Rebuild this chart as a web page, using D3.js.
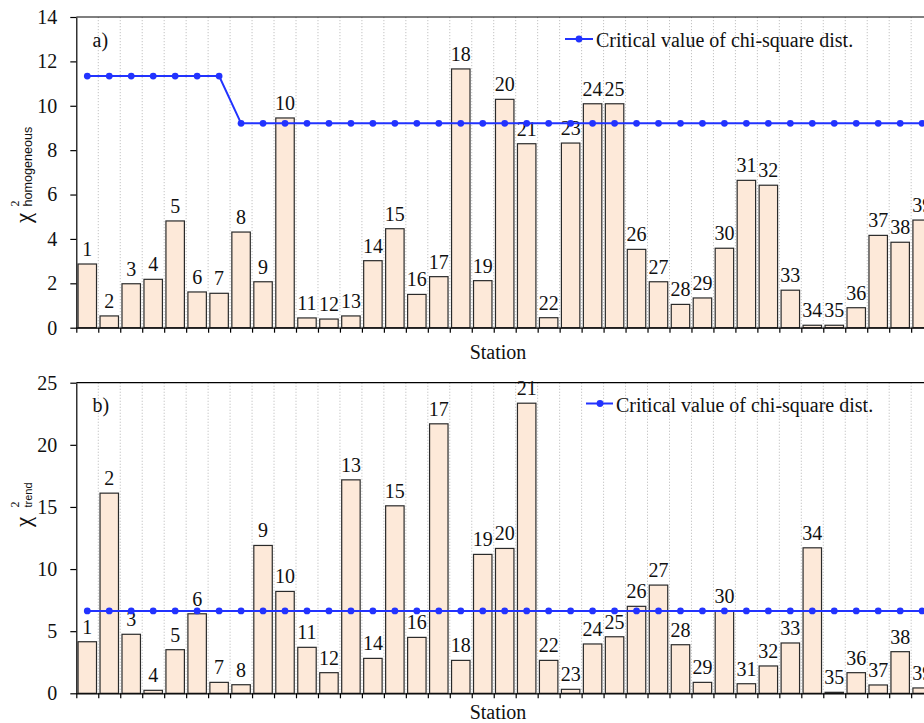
<!DOCTYPE html>
<html>
<head>
<meta charset="utf-8">
<script src="https://cdn.jsdelivr.net/npm/d3@7"></script>
<style>
  html, body { margin: 0; padding: 0; background: #fff; }
  svg { display: block; }
  svg text { font-family: "Liberation Serif", "Times New Roman", Times, serif; fill: #111; }
  svg text.sub { font-family: "Liberation Sans", Arial, Helvetica, sans-serif; }
</style>
</head>
<body>
<svg id="chart" width="924" height="723"></svg>
<script>
// Station identifiers
const stations = [1, 2, 3, 4, 5, 6, 7, 8, 9, 10, 11, 12, 13, 14, 15, 16, 17, 18, 19, 20,
  21, 22, 23, 24, 25, 26, 27, 28, 29, 30, 31, 32, 33, 34, 35, 36, 37, 38, 39];

// a) chi-square statistic for homogeneity of the series
const chiHomogeneous = [2.87, 0.53, 1.98, 2.18, 4.81, 1.61, 1.55, 4.31, 2.07, 9.45,
  0.44, 0.39, 0.53, 3.02, 4.46, 1.50, 2.30, 11.66, 2.12, 10.29,
  8.29, 0.45, 8.32, 10.09, 10.09, 3.53, 2.07, 1.05, 1.34, 3.58,
  6.64, 6.42, 1.69, 0.11, 0.11, 0.90, 4.16, 3.85, 4.85];
const criticalHomogeneous = [11.34, 11.34, 11.34, 11.34, 11.34, 11.34, 11.34, 9.21, 9.21, 9.21,
  9.21, 9.21, 9.21, 9.21, 9.21, 9.21, 9.21, 9.21, 9.21, 9.21,
  9.21, 9.21, 9.21, 9.21, 9.21, 9.21, 9.21, 9.21, 9.21, 9.21,
  9.21, 9.21, 9.21, 9.21, 9.21, 9.21, 9.21, 9.21, 9.21];

// b) chi-square statistic for trend
const chiTrend = [4.15, 16.11, 4.75, 0.24, 3.51, 6.40, 0.88, 0.69, 11.90, 8.20,
  3.70, 1.66, 17.18, 2.81, 15.09, 4.50, 21.69, 2.65, 11.18, 11.66,
  23.35, 2.65, 0.32, 3.97, 4.55, 7.00, 8.71, 3.91, 0.88, 6.60,
  0.77, 2.20, 4.05, 11.71, 0.08, 1.66, 0.67, 3.35, 0.43];
const criticalTrend = [6.63, 6.63, 6.63, 6.63, 6.63, 6.63, 6.63, 6.63, 6.63, 6.63,
  6.63, 6.63, 6.63, 6.63, 6.63, 6.63, 6.63, 6.63, 6.63, 6.63,
  6.63, 6.63, 6.63, 6.63, 6.63, 6.63, 6.63, 6.63, 6.63, 6.63,
  6.63, 6.63, 6.63, 6.63, 6.63, 6.63, 6.63, 6.63, 6.63];

// Axis ticks
const ticksHomogeneous = [0, 2, 4, 6, 8, 10, 12, 14];
const ticksTrend = [0, 5, 10, 15, 20, 25];

const legendText = "Critical value of chi-square dist.";
const xTitle = "Station";

const serif = '"Liberation Serif", "Times New Roman", Times, serif';
const sans = '"Liberation Sans", Arial, Helvetica, sans-serif';
const barFill = "#fde9d9";
const barStroke = "#2a2a2a";
const critColor = "#2233ff";

const svg = d3.select("#chart");

// Shared horizontal layout: one band per station
const xStart = 76.3, step = 21.97;
const xEnd = xStart + step * stations.length;
const x = d3.scaleBand().domain(stations).range([xStart, xEnd])
  .paddingInner(0.16).paddingOuter(0.08);
const xEdge = d3.scaleLinear().domain([0, stations.length]).range([xStart, xEnd]);
const edges = d3.range(0, stations.length + 1);

const panels = [
  { top: 17, bottom: 327.7, max: 14, ticks: ticksHomogeneous,
    values: chiHomogeneous, critical: criticalHomogeneous,
    letter: "a)", letterY: 47,
    legend: { x1: 565, x2: 593, y: 39, dot: 579, tx: 596, ty: 46.5 },
    titleY: 359, sub: "homogeneous", subSize: 12.6, chiEnd: 223, subStart: 207 },
  { top: 382.7, bottom: 693.3, max: 25, ticks: ticksTrend,
    values: chiTrend, critical: criticalTrend,
    letter: "b)", letterY: 411.5,
    legend: { x1: 586, x2: 613, y: 403.5, dot: 600, tx: 616, ty: 412 },
    titleY: 719, sub: "trend", subSize: 11, chiEnd: 527, subStart: 508 }
];

function serifText(sel, size) {
  return sel.style("font-family", serif).style("font-size", size + "px").style("fill", "#111");
}

panels.forEach(p => {
  const g = svg.append("g");
  const y = d3.scaleLinear().domain([0, p.max]).range([p.bottom, p.top]);

  // dotted vertical gridlines on the station boundaries
  g.append("g").selectAll("line").data(edges.slice(1)).join("line")
    .attr("x1", d => xEdge(d)).attr("x2", d => xEdge(d))
    .attr("y1", p.top).attr("y2", p.bottom)
    .attr("stroke", "#c2c2c2").attr("stroke-width", 1)
    .attr("stroke-dasharray", "1.2,1.8");

  // frame top
  g.append("line")
    .attr("x1", xStart).attr("x2", xEnd + 10)
    .attr("y1", p.top).attr("y2", p.top)
    .attr("stroke", "#000").attr("stroke-width", 1.2);

  // bars
  g.append("g").selectAll("rect").data(p.values).join("rect")
    .attr("x", (d, i) => x(stations[i]))
    .attr("width", x.bandwidth())
    .attr("y", d => y(d))
    .attr("height", d => y(0) - y(d))
    .attr("fill", barFill)
    .attr("stroke", barStroke)
    .attr("stroke-width", 1.2);

  // station labels above the bars
  g.append("g").selectAll("text").data(p.values).join("text")
    .attr("x", (d, i) => x(stations[i]) + x.bandwidth() / 2)
    .attr("y", d => y(d) - 8)
    .attr("text-anchor", "middle")
    .call(serifText, 20)
    .text((d, i) => stations[i]);

  // critical value line with markers
  const line = d3.line()
    .x((d, i) => x(stations[i]) + x.bandwidth() / 2)
    .y(d => y(d));
  g.append("path").datum(p.critical)
    .attr("d", line)
    .attr("fill", "none").attr("stroke", critColor).attr("stroke-width", 2);
  g.append("g").selectAll("circle").data(p.critical).join("circle")
    .attr("cx", (d, i) => x(stations[i]) + x.bandwidth() / 2)
    .attr("cy", d => y(d))
    .attr("r", 3.4)
    .attr("fill", critColor);

  // y axis
  const yAxis = g.append("g")
    .attr("transform", `translate(${xStart},0)`)
    .call(d3.axisLeft(y).tickValues(p.ticks).tickSize(6).tickSizeOuter(0).tickPadding(13));
  yAxis.attr("font-family", null).attr("font-size", null);
  yAxis.selectAll("text").call(serifText, 20);
  yAxis.selectAll("line,path").attr("stroke", "#000").attr("stroke-width", 1.2);

  // x axis with ticks at station boundaries
  const xAxis = g.append("g")
    .attr("transform", `translate(0,${p.bottom})`)
    .call(d3.axisBottom(xEdge).tickValues(edges).tickSize(5).tickSizeOuter(0).tickFormat(""));
  xAxis.selectAll("line,path").attr("stroke", "#000").attr("stroke-width", 1.2);
  xAxis.select("path.domain").attr("d", `M${xStart},0.5H${xEnd + 10}`);

  // panel letter
  g.append("text")
    .attr("x", 92.5).attr("y", p.letterY)
    .call(serifText, 20)
    .text(p.letter);

  // legend
  const L = p.legend;
  g.append("line")
    .attr("x1", L.x1).attr("x2", L.x2).attr("y1", L.y).attr("y2", L.y)
    .attr("stroke", critColor).attr("stroke-width", 2);
  g.append("circle").attr("cx", L.dot).attr("cy", L.y).attr("r", 3.4).attr("fill", critColor);
  g.append("text")
    .attr("x", L.tx).attr("y", L.ty)
    .call(serifText, 20)
    .text(legendText);

  // x title
  g.append("text")
    .attr("x", 498).attr("y", p.titleY)
    .attr("text-anchor", "middle")
    .call(serifText, 20)
    .text(xTitle);

  // y title: chi with superscript 2 and a subscript, rotated
  const t = g.append("g").attr("transform", "translate(31,0) rotate(-90)");
  t.append("text")
    .attr("x", -p.chiEnd).attr("y", 0)
    .call(serifText, 23)
    .text("\u03c7");
  t.append("text")
    .attr("x", -p.subStart + 0.5).attr("y", -12)
    .call(serifText, 12)
    .text("2");
  t.append("text")
    .attr("class", "sub")
    .attr("x", -p.subStart + 0.5).attr("y", 1)
    .style("font-family", sans).style("font-size", p.subSize + "px").style("fill", "#111")
    .text(p.sub);
});
</script>
</body>
</html>
